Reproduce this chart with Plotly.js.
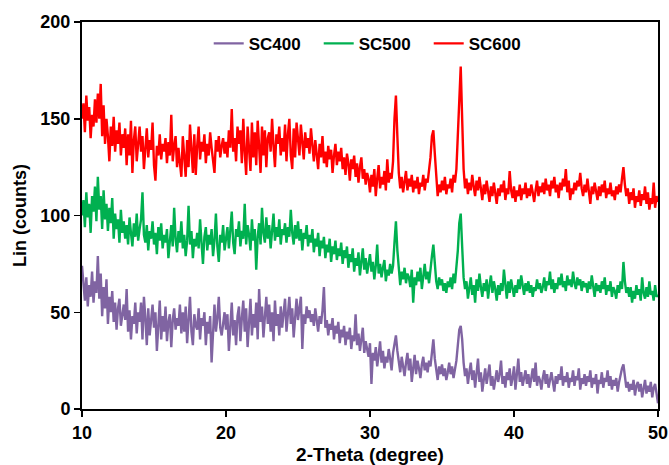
<!DOCTYPE html>
<html>
<head>
<meta charset="utf-8">
<script src="https://cdn.plot.ly/plotly-3.0.1.min.js"></script>
<style>html,body{margin:0;padding:0;background:#fff;}#chart{width:669px;height:465px;}</style>
</head>
<body>
<div id="chart"></div>
<script>
// 2-Theta grid: 10.0 to 50.0 degrees, step 0.1
const thetaStart = 10.0;
const thetaStep = 0.1;

const seriesNames = ["SC400", "SC500", "SC600"];

const sc600 = [
150,158,143,162,149,156,140,152,146,160,
148,163,150,168,141,157,137,150,141,128,
146,136,151,133,144,137,148,131,142,135,
145,126,142,131,149,122,139,146,128,140,
146,133,141,124,137,145,130,139,134,148,
126,118,136,131,142,129,137,133,140,127,
138,131,152,128,136,141,125,135,127,120,
141,128,120,139,125,147,131,122,142,121,
136,146,129,138,133,142,127,137,131,143,
135,128,122,139,133,141,130,136,140,132,
138,130,144,135,155,133,140,128,146,137,
144,127,150,133,121,146,136,123,148,130,
143,126,149,134,122,146,131,144,125,140,
143,133,150,136,125,142,137,146,131,140,
133,147,128,142,150,131,124,145,130,148,
137,131,147,138,129,143,135,140,132,145,
136,128,139,133,124,137,130,141,127,133,
125,136,129,134,122,131,137,126,133,128,
135,124,130,121,132,127,118,129,124,131,
120,127,117,125,130,119,124,116,122,119,
112,121,115,124,110,119,126,114,120,116,
123,113,129,117,122,119,128,150,162,141,
122,114,120,112,118,123,113,119,115,121,
112,118,114,120,111,117,115,121,113,119,
117,123,130,141,144,132,118,110,116,112,
118,113,120,111,116,114,119,112,121,117,
124,142,168,177,150,124,114,119,111,117,
113,121,115,110,118,113,120,114,108,116,
111,118,113,107,115,110,117,112,106,114,
110,116,112,118,108,114,111,123,113,109,
115,107,113,110,116,108,114,111,117,109,
114,110,116,112,107,113,118,110,115,112,
117,111,119,113,116,110,118,114,120,112,
116,109,117,113,119,115,124,112,118,108,
114,111,117,113,118,115,122,114,110,116,
112,119,113,106,115,111,117,112,108,115,
110,116,112,118,109,114,111,117,110,113,
108,115,111,116,112,119,125,116,110,114,
106,112,108,114,104,110,107,113,105,111,
108,115,106,112,103,109,106,117,104,110,
107
];

const sc500 = [
100,108,94,112,99,106,91,110,102,115,
97,120,103,110,93,113,98,106,92,104,
96,109,88,101,93,98,86,103,91,97,
88,95,85,99,91,84,96,89,101,87,
93,98,112,90,86,95,82,92,88,97,
85,91,80,94,87,96,83,90,86,93,
78,89,95,84,104,88,81,92,86,97,
83,90,79,87,105,85,92,78,88,84,
91,83,98,86,75,89,94,82,90,85,
93,79,87,101,84,76,90,86,95,82,
88,94,83,91,102,86,80,93,89,97,
84,92,88,106,85,95,90,82,98,87,
93,72,89,96,85,104,91,86,99,88,
95,83,92,101,87,94,89,98,85,93,
90,96,86,94,89,103,91,85,95,88,
97,87,93,82,91,88,95,84,90,86,
93,81,88,84,91,79,87,83,89,78,
85,81,88,76,84,80,87,77,83,79,
86,75,82,78,84,73,80,76,83,71,
78,74,81,69,76,83,72,78,70,75,
80,71,76,67,74,85,70,75,68,73,
77,66,72,69,75,70,74,86,97,82,
70,64,71,67,73,65,70,68,63,72,
55,68,64,71,66,73,62,69,75,67,
71,65,74,79,85,76,66,62,68,64,
67,61,65,60,66,63,68,62,70,65,
72,82,96,101,84,68,62,66,57,63,
68,59,64,55,67,61,70,63,58,65,
61,67,57,64,69,60,66,62,56,64,
59,65,61,72,63,57,66,60,67,62,
58,64,60,67,62,69,63,59,65,61,
66,60,64,58,63,61,67,62,65,60,
63,68,61,66,64,71,62,67,60,65,
62,68,64,70,63,66,61,69,64,67,
63,71,65,62,68,64,67,61,66,63,
65,60,66,62,69,63,58,65,61,64,
60,66,62,68,59,64,61,66,58,63,
61,57,64,60,66,62,76,66,60,63,
58,63,55,61,57,64,59,62,56,68,
60,57,63,58,66,59,61,56,64,58,
59
];

const sc400 = [
74,62,56,68,53,64,58,71,55,66,
60,79,57,70,48,63,52,67,44,58,
50,61,45,55,41,52,57,43,49,54,
46,62,40,51,36,48,44,55,39,50,
45,55,36,58,47,33,52,38,46,54,
42,50,30,45,56,36,48,40,53,35,
45,49,32,46,52,41,47,43,54,39,
50,40,53,34,48,58,40,33,49,43,
41,52,36,47,43,50,33,45,39,48,
24,44,54,40,47,58,42,38,46,50,
41,49,30,45,55,38,46,33,48,53,
35,47,56,40,52,32,46,57,38,49,
42,55,36,62,45,53,37,50,58,44,
54,40,50,35,56,43,49,38,53,42,
48,57,40,50,58,44,52,37,49,57,
46,51,58,31,49,44,53,47,51,45,
49,43,52,46,40,48,44,51,63,42,
46,38,44,41,47,36,43,39,45,34,
41,37,43,33,40,36,42,31,38,35,
49,33,39,30,36,42,29,35,31,27,
34,13,29,25,32,22,28,35,24,30,
21,27,24,31,26,20,29,34,38,30,
25,19,27,22,17,24,29,20,26,14,
22,28,18,25,21,16,23,27,20,24,
19,25,22,30,36,26,20,15,22,18,
23,17,21,15,19,24,18,22,16,20,
25,33,41,43,36,24,17,21,13,19,
24,15,20,11,18,26,14,19,9,16,
21,13,18,23,12,17,10,15,20,14,
18,25,13,17,11,19,15,21,12,16,
22,10,17,26,14,19,12,16,20,13,
18,11,16,21,14,24,12,17,15,10,
16,20,13,18,11,15,19,14,9,17,
13,18,15,22,12,17,14,19,11,16,
14,20,12,17,15,21,10,16,13,18,
12,17,14,20,11,16,13,18,8,15,
13,19,11,16,14,20,12,17,10,15,
12,16,9,14,18,21,23,15,11,14,
9,13,10,15,7,12,14,9,13,6,
11,15,8,12,9,14,6,11,13,8,
3
];

const seriesColors = ["#8064A2", "#00B050", "#FF0000"];
const yTickVals = [0, 50, 100, 150, 200];
const xTickVals = [10, 20, 30, 40, 50];

function thetaFor(arr) {
  return arr.map((_, i) => +(thetaStart + i * thetaStep).toFixed(2));
}

const allSeries = [sc400, sc500, sc600];
const traces = allSeries.map((vals, k) => ({
  type: "scatter",
  mode: "lines",
  name: seriesNames[k],
  x: thetaFor(vals),
  y: vals,
  line: { color: seriesColors[k], width: 2.4 }
}));

const fontFam = "Liberation Sans, Arial, sans-serif";
const layout = {
  width: 669,
  height: 465,
  margin: { l: 82, r: 11, t: 22, b: 56 },
  paper_bgcolor: "#ffffff",
  plot_bgcolor: "#ffffff",
  font: { family: fontFam, color: "#000", size: 18, weight: "bold" },
  showlegend: true,
  legend: {
    orientation: "h",
    x: 0.22, xanchor: "left",
    y: 0.99, yanchor: "top",
    font: { family: fontFam, size: 17, color: "#000", weight: "bold" },
    bgcolor: "rgba(0,0,0,0)",
    itemwidth: 30,
    entrywidth: 65,
    entrywidthmode: "pixels",
    tracegroupgap: 0
  },
  xaxis: {
    range: [10, 50],
    tickvals: xTickVals,
    ticktext: xTickVals.map(String),
    ticks: "outside",
    ticklen: 6,
    tickwidth: 1.5,
    tickcolor: "#000",
    showline: true,
    linecolor: "#000",
    linewidth: 2,
    mirror: true,
    showgrid: false,
    zeroline: false,
    tickfont: { family: fontFam, size: 18, color: "#000", weight: "bold" },
    title: { text: "2-Theta (degree)", font: { family: fontFam, size: 19, color: "#000", weight: "bold" }, standoff: 10 }
  },
  yaxis: {
    range: [0, 200],
    tickvals: yTickVals,
    ticktext: yTickVals.map(String),
    ticks: "outside",
    ticklen: 6,
    tickwidth: 1.5,
    tickcolor: "#000",
    showline: true,
    linecolor: "#000",
    linewidth: 2,
    mirror: true,
    showgrid: false,
    zeroline: false,
    tickfont: { family: fontFam, size: 18, color: "#000", weight: "bold" },
    title: { text: "Lin (counts)", font: { family: fontFam, size: 18, color: "#000", weight: "bold" }, standoff: 9 }
  }
};

Plotly.newPlot("chart", traces, layout, { displayModeBar: false, staticPlot: true });
</script>
</body>
</html>
